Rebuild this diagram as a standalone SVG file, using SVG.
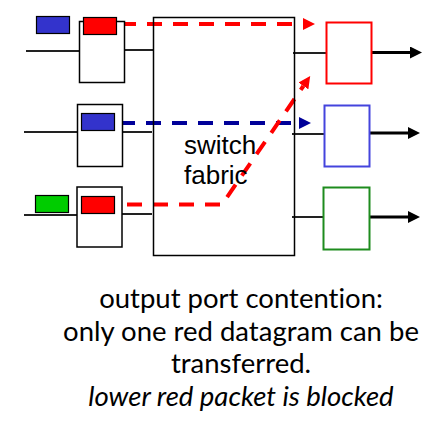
<svg xmlns="http://www.w3.org/2000/svg" width="446" height="428" viewBox="0 0 446 428">
<defs>
<style>
.box{fill:#fff;stroke:#000;stroke-width:1.5}
.pkt{stroke:#000;stroke-width:1.2}
.wire{stroke:#222;stroke-width:2;fill:none}
.out{stroke:#000;stroke-width:3;fill:none}
.dash{fill:none;stroke-width:4;stroke-dasharray:15 11}
.lbl{font-family:"Liberation Sans",Arial,sans-serif;font-size:26px;fill:#000}
.cap{font-family:Lato,"Open Sans",sans-serif;font-size:27.5px;fill:#000;text-anchor:middle;font-variant-ligatures:none}
</style>
<marker id="ahRed" viewBox="0 0 12 12" refX="0" refY="6" markerWidth="12" markerHeight="12" markerUnits="userSpaceOnUse" orient="auto"><path d="M0,0 L12,6 L0,12 z" fill="#FF0000"/></marker>
<marker id="ahBlue" viewBox="0 0 12 12" refX="0" refY="6" markerWidth="12" markerHeight="12" markerUnits="userSpaceOnUse" orient="auto"><path d="M0,0 L12,6 L0,12 z" fill="#000099"/></marker>
<marker id="ahBlack" viewBox="0 0 12 12" refX="0" refY="6" markerWidth="12" markerHeight="12" markerUnits="userSpaceOnUse" orient="auto"><path d="M0,0 L12,6 L0,12 z" fill="#000"/></marker>
</defs>
<rect width="446" height="428" fill="#fff"/>

<g id="connectors">
<line class="wire" x1="26" y1="51" x2="79" y2="51"/>
<line class="wire" x1="123" y1="50" x2="153" y2="50"/>
<line class="wire" x1="24" y1="132" x2="77" y2="132"/>
<line class="wire" x1="122" y1="132" x2="152" y2="132"/>
<line class="wire" x1="24" y1="215" x2="77" y2="215"/>
<line class="wire" x1="122" y1="214" x2="152" y2="214"/>
<line class="wire" x1="293" y1="53" x2="326" y2="53"/>
<line class="wire" x1="292" y1="134" x2="324" y2="134"/>
<line class="wire" x1="292" y1="217" x2="323" y2="217"/>
<line class="out" x1="369" y1="52.5" x2="410" y2="52.5" marker-end="url(#ahBlack)"/>
<line class="out" x1="367" y1="133" x2="408" y2="133" marker-end="url(#ahBlack)"/>
<line class="out" x1="367" y1="217" x2="408" y2="217" marker-end="url(#ahBlack)"/>
<path class="dash" stroke="#FF0000" d="M121,24 H303" marker-end="url(#ahRed)"/>
<path class="dash" stroke="#000099" d="M120,123 H299" marker-end="url(#ahBlue)"/>
<path class="dash" stroke="#FF0000" d="M127,204.5 H222 L303.4,86" marker-end="url(#ahRed)"/>
</g>

<g id="switch-fabric">
<rect x="153.5" y="17.5" width="141" height="238" fill="none" stroke="#000" stroke-width="1.5"/>
<text class="lbl" x="184" y="154">switch</text>
<text class="lbl" x="184" y="184">fabric</text>
</g>

<g id="input-port-1">
<rect class="box" x="79.5" y="21.5" width="45" height="61"/>
<rect class="pkt" x="83.5" y="17.5" width="33" height="17" fill="#FF0000"/>
<rect class="pkt" x="36.5" y="16.5" width="33" height="17" fill="#3333CC"/>
</g>

<g id="input-port-2">
<rect class="box" x="77.5" y="104.5" width="45" height="62"/>
<rect class="pkt" x="81.5" y="113.5" width="33" height="17" fill="#3333CC"/>
</g>

<g id="input-port-3">
<rect class="box" x="77" y="187" width="45" height="60"/>
<rect class="pkt" x="81.5" y="196.5" width="33" height="17" fill="#FF0000"/>
<rect class="pkt" x="35.5" y="195.5" width="33" height="17" fill="#00CC00"/>
</g>

<g id="output-port-1">
<rect x="326.5" y="22.5" width="45" height="61" fill="#fff" stroke="#FF0000" stroke-width="2"/>
</g>
<g id="output-port-2">
<rect x="324.5" y="105.5" width="45" height="61" fill="#fff" stroke="#4444DD" stroke-width="2"/>
</g>
<g id="output-port-3">
<rect x="323.5" y="187.5" width="46" height="62" fill="#fff" stroke="#1E8C1E" stroke-width="2"/>
</g>

<g id="caption">
<text class="cap" x="241" y="308">output port contention:</text>
<text class="cap" x="241" y="341">only one red datagram can be</text>
<text class="cap" x="241" y="373">transferred.</text>
<text class="cap" x="241" y="406" font-style="italic">lower red packet is blocked</text>
</g>
</svg>
